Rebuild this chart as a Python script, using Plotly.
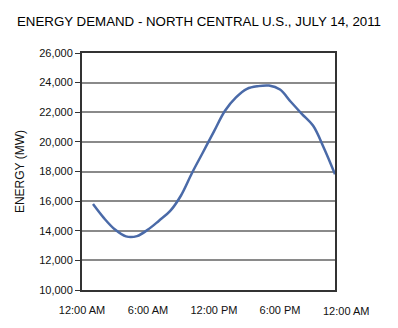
import plotly.graph_objects as go

hours = list(range(1, 24))
demand_mw = [15800, 14850, 14080, 13620, 13640, 14080, 14680, 15320, 16380, 17900,
             19300, 20710, 22100, 23000, 23580, 23760, 23800, 23530, 22690, 21880,
             21100, 19570, 17810]

tick_hours = [0, 6, 12, 18, 24]
tick_labels = ["12:00 AM", "6:00 AM", "12:00 PM", "6:00 PM", "12:00 AM"]
y_ticks = list(range(10000, 26001, 2000))
x_max = 23.0

FONT = "Liberation Sans, Arial, sans-serif"

fig = go.Figure()
fig.add_trace(go.Scatter(
    x=hours, y=demand_mw, mode="lines",
    line=dict(color="#4a6aa8", width=2.5, shape="spline", smoothing=1.0),
    hoverinfo="skip", showlegend=False,
))

fig.update_layout(
    width=398, height=328,
    margin=dict(l=82, r=63, t=53, b=34),
    paper_bgcolor="white", plot_bgcolor="white",
    font=dict(family=FONT, size=11, color="#111"),
    title=dict(text="ENERGY DEMAND - NORTH CENTRAL U.S., JULY 14, 2011",
               x=0.5, xanchor="center", y=0.935, yanchor="middle",
               font=dict(family=FONT, size=13.3, color="#000")),
    xaxis=dict(range=[0, x_max], tickvals=tick_hours[:-1], ticktext=tick_labels[:-1],
               showgrid=False, zeroline=False, showline=True, mirror=True,
               linecolor="#333", linewidth=2, ticks="", ticklabelstandoff=9,
               tickfont=dict(size=11)),
    yaxis=dict(range=[10000, 26000], tickvals=y_ticks, tickformat=",d",
               showgrid=True, gridcolor="#8a8a8a", gridwidth=2, zeroline=False,
               showline=True, mirror=True, linecolor="#333", linewidth=2,
               ticks="outside", ticklen=5, tickcolor="#333", tickwidth=1,
               tickfont=dict(size=11),
               title=dict(text="ENERGY (MW)", font=dict(size=12), standoff=12)),
)

fig.add_annotation(x=tick_hours[-1] / x_max, xref="paper", y=0, yref="paper",
                   text=tick_labels[-1], showarrow=False, yanchor="top",
                   xanchor="center", yshift=-13,
                   font=dict(family=FONT, size=11, color="#111"))

fig.write_html("out.html")
